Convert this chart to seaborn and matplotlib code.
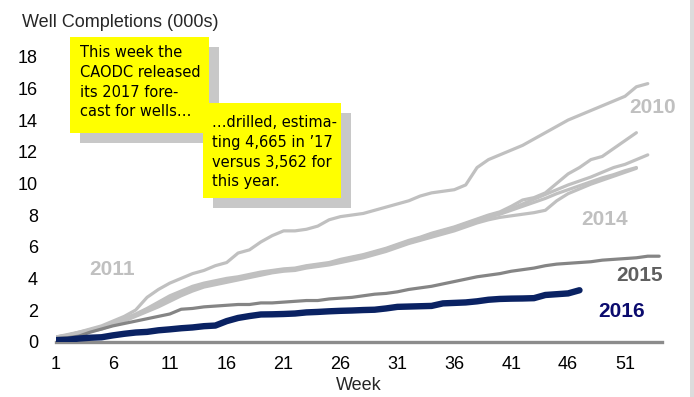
import matplotlib
matplotlib.use("Agg")
import matplotlib.pyplot as plt
from matplotlib.patches import Rectangle
import pandas as pd
import seaborn as sns

# Cumulative well completions (thousands) by week of year
y2010 = [0.3, 0.4, 0.6, 0.8, 1.0, 1.3, 1.6, 2.0, 2.8, 3.3,
         3.7, 4.0, 4.3, 4.5, 4.8, 5.0, 5.6, 5.8, 6.3, 6.7,
         7.0, 7.0, 7.1, 7.3, 7.7, 7.9, 8.0, 8.1, 8.3, 8.5,
         8.7, 8.9, 9.2, 9.4, 9.5, 9.6, 9.9, 11.0, 11.5, 11.8,
         12.1, 12.4, 12.8, 13.2, 13.6, 14.0, 14.3, 14.6, 14.9, 15.2,
         15.5, 16.1, 16.3]
y2011 = [0.3, 0.45, 0.6, 0.75, 0.9, 1.15, 1.45, 1.75, 2.1, 2.5,
         2.9, 3.2, 3.5, 3.7, 3.85, 4.0, 4.1, 4.25, 4.4, 4.5,
         4.6, 4.65, 4.8, 4.9, 5.0, 5.2, 5.35, 5.5, 5.7, 5.9,
         6.15, 6.4, 6.6, 6.85, 7.05, 7.25, 7.5, 7.75, 8.0, 8.2,
         8.55, 8.95, 9.1, 9.4, 10.0, 10.6, 11.0, 11.5, 11.7, 12.2,
         12.7, 13.2]
y2012 = [0.25, 0.4, 0.55, 0.7, 0.85, 1.1, 1.4, 1.7, 2.05, 2.4,
         2.75, 3.1, 3.4, 3.6, 3.75, 3.9, 4.0, 4.15, 4.3, 4.45,
         4.55, 4.6, 4.75, 4.85, 4.95, 5.1, 5.3, 5.45, 5.65, 5.85,
         6.1, 6.35, 6.55, 6.8, 7.0, 7.2, 7.45, 7.7, 7.95, 8.15,
         8.4, 8.7, 9.0, 9.3, 9.6, 9.9, 10.15, 10.4, 10.7, 11.0,
         11.2, 11.5, 11.8]
y2013 = [0.3, 0.4, 0.55, 0.7, 0.85, 1.1, 1.35, 1.65, 1.95, 2.3,
         2.65, 3.0, 3.3, 3.55, 3.7, 3.85, 3.95, 4.1, 4.25, 4.4,
         4.5, 4.55, 4.7, 4.8, 4.9, 5.05, 5.25, 5.4, 5.6, 5.8,
         6.0, 6.25, 6.45, 6.65, 6.9, 7.1, 7.35, 7.6, 7.85, 8.05,
         8.3, 8.55, 8.8, 9.05, 9.35, 9.6, 9.85, 10.1, 10.35, 10.55,
         10.8, 11.0]
y2014 = [0.25, 0.35, 0.5, 0.65, 0.8, 1.05, 1.3, 1.6, 1.9, 2.2,
         2.55, 2.9, 3.2, 3.45, 3.6, 3.75, 3.9, 4.05, 4.2, 4.35,
         4.45, 4.5, 4.65, 4.75, 4.85, 5.0, 5.15, 5.3, 5.5, 5.7,
         5.95, 6.2, 6.4, 6.6, 6.8, 7.0, 7.25, 7.5, 7.7, 7.85,
         7.95, 8.05, 8.15, 8.3, 8.9, 9.35, 9.65, 9.95, 10.2, 10.45,
         10.7, 10.95]
y2015 = [0.2, 0.25, 0.35, 0.6, 0.8, 1.0, 1.15, 1.3, 1.45, 1.6,
         1.75, 2.05, 2.1, 2.2, 2.25, 2.3, 2.35, 2.35, 2.45, 2.45,
         2.5, 2.55, 2.6, 2.6, 2.7, 2.75, 2.8, 2.9, 3.0, 3.05,
         3.15, 3.3, 3.4, 3.5, 3.65, 3.8, 3.95, 4.1, 4.2, 4.3,
         4.45, 4.55, 4.65, 4.8, 4.9, 4.95, 5.0, 5.05, 5.15, 5.2,
         5.25, 5.3, 5.4, 5.4]
y2016 = [0.1, 0.12, 0.2, 0.25, 0.28, 0.4, 0.5, 0.58, 0.62, 0.72,
         0.78, 0.85, 0.9, 0.98, 1.02, 1.3, 1.5, 1.62, 1.72, 1.73,
         1.75, 1.78, 1.85, 1.88, 1.92, 1.95, 1.97, 2.0, 2.02, 2.1,
         2.2, 2.22, 2.24, 2.26, 2.42, 2.45, 2.48, 2.55, 2.65, 2.7,
         2.72, 2.73, 2.75, 2.95, 3.0, 3.05, 3.25]

week_ticks = [1, 6, 11, 16, 21, 26, 31, 36, 41, 46, 51]
value_ticks = [0, 2, 4, 6, 8, 10, 12, 14, 16, 18]

series = {"2011": y2011, "2012": y2012, "2013": y2013, "2014": y2014,
          "2010": y2010, "2015": y2015, "2016": y2016}
frames = [pd.DataFrame({"week": range(1, len(v) + 1), "wells": v, "year": k})
          for k, v in series.items()]
df = pd.concat(frames, ignore_index=True)

LIGHT = "#C0C0C0"
styles = {"2010": (LIGHT, 2.3), "2011": (LIGHT, 2.3), "2012": (LIGHT, 2.3),
          "2013": (LIGHT, 2.3), "2014": (LIGHT, 2.3),
          "2015": ("#858585", 2.3), "2016": ("#0A2263", 4.6)}

sns.set_style("white")
plt.rcParams["font.family"] = ["Liberation Sans", "DejaVu Sans"]

fig = plt.figure(figsize=(6.94, 3.97), dpi=100)
ax = fig.add_axes([56 / 694, 1 - 341.7 / 397, 606 / 694, 285 / 397])

for year, (color, lw) in styles.items():
    sns.lineplot(data=df[df["year"] == year], x="week", y="wells", ax=ax,
                 color=color, linewidth=lw, solid_capstyle="round",
                 legend=False, zorder=3)

ax.set_xlim(1, 54.25)
ax.set_ylim(0, 18)
ax.set_xticks(week_ticks)
ax.set_yticks(value_ticks)
ax.set_xticklabels([str(w) for w in week_ticks])
ax.set_yticklabels([str(v) for v in value_ticks])
for s in ("top", "right", "left"):
    ax.spines[s].set_visible(False)
ax.spines["bottom"].set_color("#8C8C8C")
ax.spines["bottom"].set_linewidth(2.4)
ax.spines["bottom"].set_zorder(2)
ax.tick_params(axis="x", direction="out", length=4, width=2, color="#8C8C8C",
               labelsize=13, pad=6, labelcolor="black")
ax.tick_params(axis="y", length=0, labelsize=13, pad=13, labelcolor="black")
ax.set_xlabel("Week", fontsize=13, labelpad=3)
ax.set_ylabel("")
ax.grid(False)

# Year labels next to the curves
lab = dict(fontsize=15, fontweight="bold", ha="center", va="center")
ax.text(53.4, 14.76, "2010", color=LIGHT, **lab)
ax.text(5.96, 4.53, "2011", color=LIGHT, **lab)
ax.text(49.2, 7.7, "2014", color=LIGHT, **lab)
ax.text(52.3, 4.15, "2015", color="#5F5F5F", **lab)
ax.text(50.7, 1.9, "2016", color="#0B0B6E", **lab)

fig.text(22 / 694, 1 - 27 / 397, "Well Completions (000s)", fontsize=13,
         va="baseline", ha="left")

# Call-out boxes with drop shadows
def callout(x0, y0, x1, y1, text, tx, ty):
    W, H = 694, 397
    fig.add_artist(Rectangle(((x0 + 10) / W, 1 - (y1 + 10) / H), (x1 - x0) / W,
                             (y1 - y0) / H, transform=fig.transFigure,
                             facecolor="#C8C8C8", edgecolor="none", zorder=5))
    fig.add_artist(Rectangle((x0 / W, 1 - y1 / H), (x1 - x0) / W, (y1 - y0) / H,
                             transform=fig.transFigure, facecolor="#FFFF00",
                             edgecolor="none", zorder=6))
    fig.text(tx / W, 1 - ty / H, text, fontsize=10.5, family="DejaVu Sans",
             ha="left", va="top", linespacing=1.4, zorder=7, color="black")

callout(70, 37, 209, 133,
        "This week the\nCAODC released\nits 2017 fore-\ncast for wells\u2026",
        80, 45)
callout(203, 103, 341, 198,
        "\u2026drilled, estima-\nting 4,665 in \u201917\nversus 3,562 for\nthis year.",
        212, 115)

# Slide border strip on the right edge
fig.add_artist(Rectangle((690 / 694, 0), 4 / 694, 1, transform=fig.transFigure,
                         facecolor="#DCDCDC", edgecolor="none", zorder=8))

fig.savefig("out.png", dpi=100)
